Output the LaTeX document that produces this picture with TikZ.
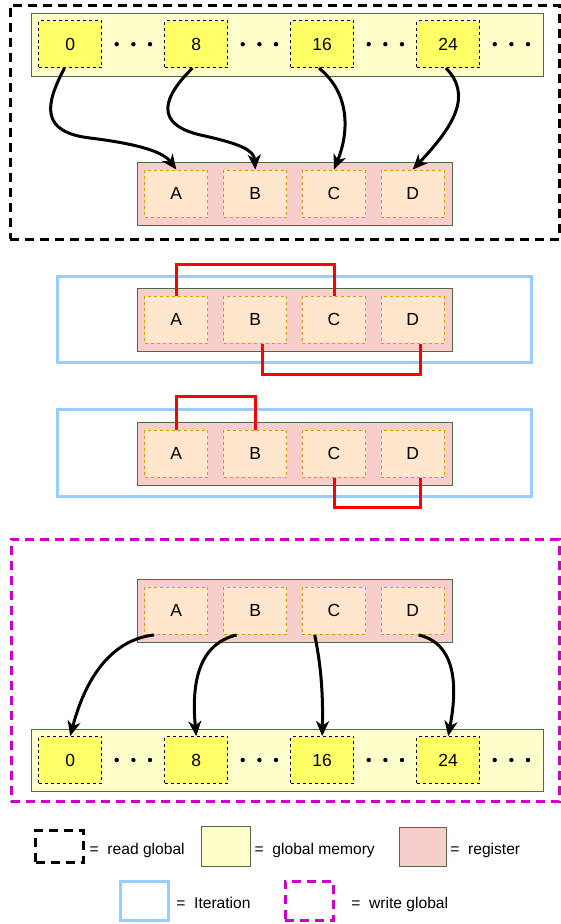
\documentclass[tikz,border=0pt]{standalone}
\usepackage{fontspec}
\setmainfont{Liberation Sans}
\usetikzlibrary{arrows.meta}
\definecolor{gmfill}{HTML}{FFFFCC}
\definecolor{gcfill}{HTML}{FFFF66}
\definecolor{rgfill}{HTML}{F8CECC}
\definecolor{rcfill}{HTML}{FFE6CC}
\definecolor{rcline}{HTML}{D79B00}
\definecolor{boxline}{HTML}{4F6B43}
\definecolor{iterblue}{HTML}{99CCFF}
\definecolor{wmag}{HTML}{CC00CC}
\definecolor{redc}{HTML}{FF0000}
\begin{document}
\begin{tikzpicture}[x=1pt,y=-1pt,
  cellfont/.style={font=\fontsize{17.5}{20}\selectfont},
  legfont/.style={font=\fontsize{15.6}{18}\selectfont},
  gmrow/.style={draw=boxline, fill=gmfill, line width=1pt, minimum width=512.3pt, minimum height=62.7pt, inner sep=0pt},
  gcell/.style={draw=black, dash pattern=on 3pt off 3pt, fill=gcfill, line width=1pt, minimum width=63pt, minimum height=46.8pt, inner sep=0pt, cellfont},
  regrow/.style={draw=boxline, fill=rgfill, line width=1pt, minimum width=315pt, minimum height=63pt, inner sep=0pt},
  rcell/.style={draw=rcline, dash pattern=on 3pt off 3pt, fill=rcfill, line width=1pt, minimum width=63.3pt, minimum height=47.3pt, inner sep=0pt, cellfont},
  iterbox/.style={draw=iterblue, line width=3pt, inner sep=0pt},
  readbox/.style={draw=black, line width=3pt, dash pattern=on 9pt off 6pt, inner sep=0pt},
  writebox/.style={draw=wmag, line width=3pt, dash pattern=on 9pt off 6pt, inner sep=0pt},
  redline/.style={draw=redc, line width=3pt},
  arr/.style={draw=black, line width=3pt, -{Stealth[length=15pt,width=13pt,inset=4.5pt]}},
  legtext/.style={legfont, inner sep=0pt, anchor=base west},
  dotc/.style={fill=black}
]
\useasboundingbox (0,0) rectangle (561,924);

% outer boxes
\node[readbox, minimum width=549pt, minimum height=234.3pt] (rd) at (284.5,122.2) {};
\node[writebox, minimum width=548pt, minimum height=262.4pt] (wr) at (285,670.5) {};

% top global memory row
\node[gmrow] (gtop) at (287.15,44.65) {};
\foreach \n/\x/\t in {0/70.2/0,1/196.2/8,2/322.2/16,3/448.2/24}
  \node[gcell] (t\n) at (\x,44.2) {\t};
\foreach \c in {70.2,196.2,322.2,448.2}
  \foreach \d in {46.5,63.2,79.8}
    \fill[dotc] (\c+\d,44.2) circle (2.2pt);

% register 1
\node[regrow] (reg1) at (294.8,193.8) {};
\foreach \n/\x in {A/176.3,B/255.3,C/334,D/412.7}
  \node[rcell] (r1\n) at (\x,193.7) {\n};

% iteration 1
\node[iterbox, minimum width=473.7pt, minimum height=86pt] (it1) at (294.15,319) {};
\node[regrow] (reg2) at (294.8,319.7) {};
\foreach \n/\x in {A/176.3,B/255.3,C/334,D/412.7}
  \node[rcell] (r2\n) at (\x,319.8) {\n};
\coordinate (h1) at (0,264);
\coordinate (h2) at (0,374);
\draw[redline] (r2A.north) -- (r2A.north |- h1) -| (r2C.north);
\draw[redline] ([xshift=7pt]r2B.south) -- ([xshift=7pt]r2B.south |- h2) -| ([xshift=7.3pt]r2D.south);

% iteration 2
\node[iterbox, minimum width=473.7pt, minimum height=87.4pt] (it2) at (294.15,453) {};
\node[regrow] (reg3) at (294.8,453.5) {};
\foreach \n/\x in {A/176.3,B/255.3,C/334,D/412.7}
  \node[rcell] (r3\n) at (\x,453.8) {\n};
\coordinate (h3) at (0,396.7);
\coordinate (h4) at (0,507.7);
\draw[redline] (r3A.north) -- (r3A.north |- h3) -| (r3B.north);
\draw[redline] (r3C.south) -- (r3C.south |- h4) -| ([xshift=7.3pt]r3D.south);

% register 4 (write)
\node[regrow] (reg4) at (294.8,611) {};
\foreach \n/\x in {A/176.3,B/255.3,C/334,D/412.7}
  \node[rcell] (r4\n) at (\x,610.8) {\n};

% bottom global memory row
\node[gmrow] (gbot) at (287.15,760.5) {};
\foreach \n/\x/\t in {0/70.2/0,1/196.2/8,2/322.2/16,3/448.2/24}
  \node[gcell] (b\n) at (\x,760) {\t};
\foreach \c in {70.2,196.2,322.2,448.2}
  \foreach \d in {46.5,63.2,79.8}
    \fill[dotc] (\c+\d,760) circle (2.2pt);

% read arrows
\draw[arr] ([xshift=-5.7pt]t0.south) .. controls (45,105) and (40,132) .. (90,138) .. controls (130,143) and (162,150) .. (r1A.north);
\draw[arr] ([xshift=-3.7pt]t1.south) .. controls (165,95) and (150,125) .. (205,136) .. controls (240,144) and (254,150) .. (r1B.north);
\draw[arr] ([xshift=-3.2pt]t2.south) .. controls (352,95) and (348,135) .. (r1C.north);
\draw[arr] ([xshift=-2.2pt]t3.south) .. controls (472,95) and (455,125) .. (r1D.north);

% write arrows
\draw[arr] ([xshift=-22.3pt]r4A.south) .. controls (110,640) and (85,680) .. (b0.north);
\draw[arr] ([xshift=-18.8pt]r4B.south) .. controls (195,645) and (192,690) .. (b1.north);
\draw[arr] ([xshift=-19.3pt]r4C.south) .. controls (322,670) and (323,700) .. (b2.north);
\draw[arr] ([xshift=5.9pt]r4D.south) .. controls (462,645) and (455,700) .. (b3.north);

% legend
\node[readbox, minimum width=47.6pt, minimum height=32.3pt] (lk) at (59.5,846.15) {};
\node[draw=boxline, fill=gmfill, line width=1pt, minimum width=48.3pt, minimum height=40pt, inner sep=0pt] (ly) at (225.85,846.7) {};
\node[draw=boxline, fill=rgfill, line width=1pt, minimum width=47.7pt, minimum height=39.4pt, inner sep=0pt] (lr) at (422.85,847) {};
\node[iterbox, minimum width=47.6pt, minimum height=39.7pt] (lb) at (144.5,900.85) {};
\node[writebox, minimum width=48.3pt, minimum height=39.7pt] (lm) at (309.15,900.85) {};
\node[legtext] (tk) at (89.5,854.5) {=\ \ read global};
\node[legtext] (ty) at (254.5,854.5) {=\ \ global memory};
\node[legtext] (tr) at (450.2,854.5) {=\ \ register};
\node[legtext] (tb) at (176.2,908.5) {=\ \ Iteration};
\node[legtext] (tm) at (351.2,908.5) {=\ \ write global};
\end{tikzpicture}
\end{document}
